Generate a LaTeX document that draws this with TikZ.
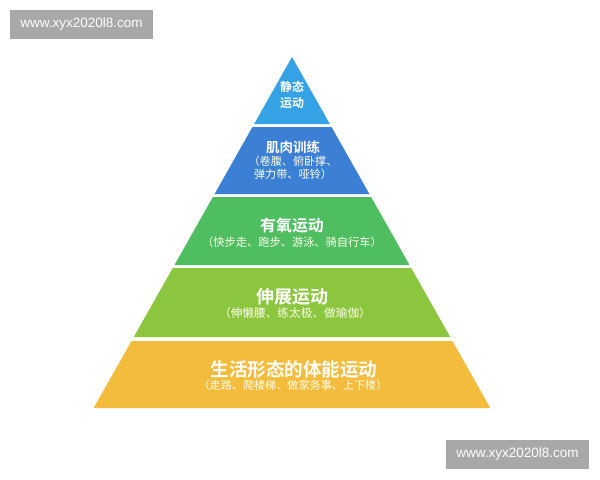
\documentclass[tikz,border=0pt]{standalone}
\usepackage{fontspec}
\newfontfamily\cjk{Noto Sans CJK SC}
\newfontfamily\cjkbold{Noto Sans CJK SC Bold}
\setmainfont{Liberation Sans}
\usetikzlibrary{calc}

\definecolor{skyblue}{HTML}{36A2E6}
\definecolor{deepblue}{HTML}{3B80D5}
\definecolor{grassgreen}{HTML}{4EBE60}
\definecolor{limegreen}{HTML}{8CC63F}
\definecolor{sunyellow}{HTML}{F4BC3C}
\definecolor{markgray}{HTML}{A8A8A8}

\tikzset{
	head/.style={text=white, inner sep=0pt, align=center},
	sub/.style={text=white!92!yellow, inner sep=0pt, align=center},
	mark/.style={}
}

\begin{document}
\begin{tikzpicture}[x=0.025cm,y=-0.025cm]
	\useasboundingbox[fill=white] (0,0) rectangle (600,480);

	%Layers
	\coordinate (apex) at (292,57);
	\fill[skyblue] (apex) -- ({292-0.565*67},124) -- ({292+0.565*67},124) -- cycle;
	\foreach \t/\b/\c in {127/194/deepblue, 197/265/grassgreen, 268/337/limegreen, 341/408/sunyellow}
	{
		\fill[\c] ({292-0.565*(\t-57)},\t) -- ({292+0.565*(\t-57)},\t)
			-- ({292+0.565*(\b-57)},\b) -- ({292-0.565*(\b-57)},\b) -- cycle;
	}

	%Texts
	\node[head, font=\cjkbold\fontsize{8.5}{10.8}\selectfont] (static) at (292,95) {静态\\运动};

	\node[head, font=\cjkbold\fontsize{9.6}{11}\selectfont] (muscle) at (293,147) {肌肉训练};
	\node[sub, font=\cjk\fontsize{7.9}{9.6}\selectfont] (muscleex) at (293,168) {（卷腹、俯卧撑、\\弹力带、哑铃）};

	\node[head, font=\cjkbold\fontsize{11.3}{13}\selectfont] (aerobic) at (292,226) {有氧运动};
	\node[sub, font=\cjk\fontsize{8}{9}\selectfont] (aerobicex) at (292,242) {（快步走、跑步、游泳、骑自行车）};

	\node[head, font=\cjkbold\fontsize{12.8}{14}\selectfont] (stretch) at (292,297) {伸展运动};
	\node[sub, font=\cjk\fontsize{8.3}{9.5}\selectfont] (stretchex) at (295,313) {（伸懒腰、练太极、做瑜伽）};

	\node[head, font=\cjkbold\fontsize{13.2}{15}\selectfont] (daily) at (294,369) {生活形态的体能运动};
	\node[sub, font=\cjk\fontsize{7.9}{9}\selectfont] (dailyex) at (293,385) {（走路、爬楼梯、做家务事、上下楼）};

	%Watermarks
	\fill[markgray] (10,10) rectangle (153,39);
	\node[text=white, font=\fontsize{9.6}{10}\selectfont] (marktop) at (81.5,24.5) {www.xyx2020l8.com};
	\fill[markgray] (446,440) rectangle (589,469);
	\node[text=white, font=\fontsize{9.6}{10}\selectfont] (markbottom) at (517.5,454.5) {www.xyx2020l8.com};
\end{tikzpicture}
\end{document}
